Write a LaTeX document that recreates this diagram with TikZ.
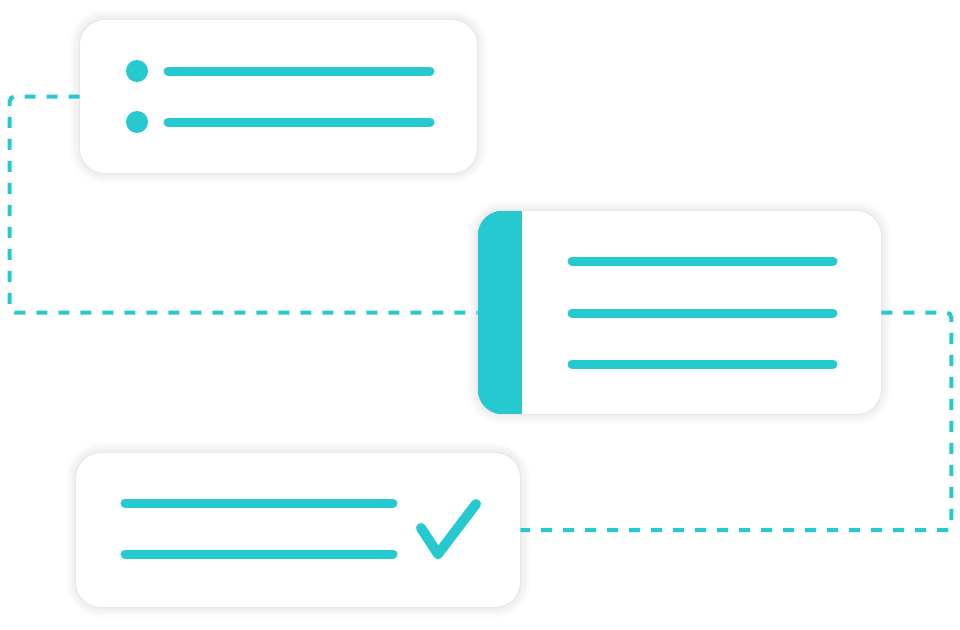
\documentclass[tikz,border=0pt]{standalone}
\usetikzlibrary{shadows.blur}
\definecolor{teal}{HTML}{26C9D0}
\tikzset{
  card/.style={fill=white, rounded corners=0.5cm, inner sep=0pt,
    blur shadow={shadow xshift=0pt, shadow yshift=0pt, shadow blur radius=6pt, shadow opacity=18}},
  bar/.style={teal, line width=9*0.02cm, line cap=round},
  link/.style={teal, line width=4*0.02cm, dash pattern=on 11*0.02cm off 11*0.02cm, rounded corners=0.1cm}
}
\begin{document}
\begin{tikzpicture}[x=0.02cm,y=-0.02cm]
  \useasboundingbox (0,0) rectangle (960,629);
  % cards
  \node (top) [card, minimum width=7.94cm, minimum height=3.06cm] at (278.5,96.5) {};
  \node (mid) [card, minimum width=8.06cm, minimum height=4.06cm] at (679.5,312.5) {};
  \node (low) [card, minimum width=8.88cm, minimum height=3.08cm] at (298,530) {};

  % top card content
  \fill[teal] (137,71) circle (11);
  \fill[teal] (137,122) circle (11);
  \draw[bar] (168,71) -- (430,71);
  \draw[bar] (168,122) -- (430,122);

  % middle card content
  \begin{scope}
    \clip[rounded corners=0.5cm] (mid.north west) rectangle (mid.south east);
    \fill[teal] (mid.north west) rectangle (522,414);
  \end{scope}
  \foreach \y in {261,313,364}
    \draw[bar] (572,\y) -- (833,\y);

  % lower card content
  \draw[bar] (125,503) -- (393,503);
  \draw[bar] (125,554) -- (393,554);
  \draw[teal, line width=10*0.02cm, line cap=round, line join=round]
    (421,528) -- (438,554) -- (476,504);

  % connectors
  \draw[link] (top.west) -- ++(-70,0) |- (mid.west);
  \draw[link] (mid.east) -- ++(70,0) |- (low.east);
\end{tikzpicture}
\end{document}
